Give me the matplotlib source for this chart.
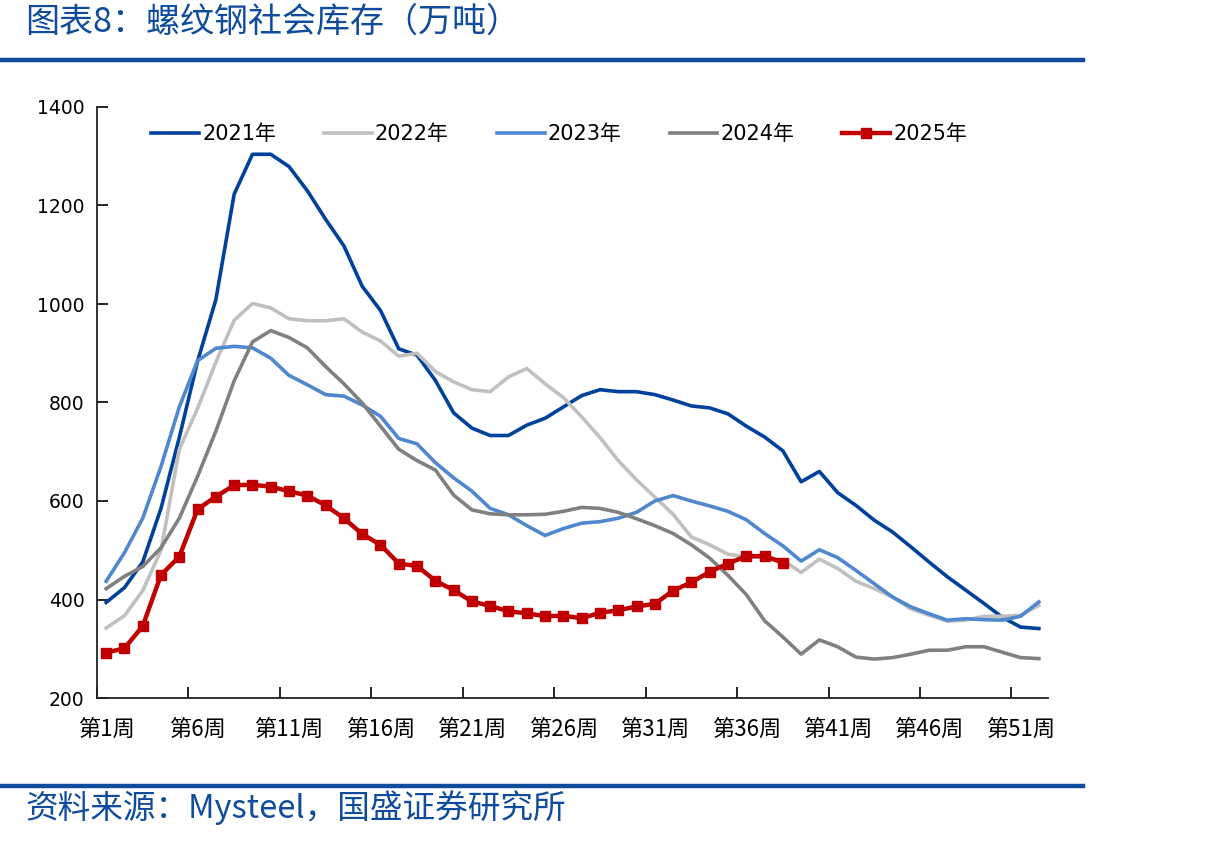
import matplotlib
matplotlib.use('Agg')
import matplotlib.pyplot as plt
from matplotlib.lines import Line2D

weeks = list(range(1, 53))
series_names = ['2021年', '2022年', '2023年', '2024年', '2025年']

y2021 = [394, 424, 476, 585, 729, 884, 1009, 1223, 1304, 1304,
         1279, 1230, 1172, 1118, 1036, 987, 909, 896, 845, 779,
         748, 733, 733, 754, 768, 791, 814, 826, 822, 822,
         816, 805, 793, 789, 777, 752, 730, 702, 639, 660,
         617, 591, 561, 537, 507, 476, 446, 419, 392, 364, 344, 341]
y2022 = [342, 367, 418, 500, 705, 788, 882, 967, 1001, 992,
         970, 966, 966, 970, 943, 925, 894, 900, 863, 842,
         826, 822, 852, 869, 838, 810, 771, 729, 682, 643,
         608, 573, 527, 511, 492, 486, 486, 480, 455, 482,
         463, 437, 422, 405, 381, 368, 356, 358, 366, 366, 368, 388]
y2023 = [437, 495, 565, 670, 791, 885, 910, 914, 911, 890,
         855, 836, 816, 813, 795, 772, 727, 716, 678, 647,
         620, 585, 572, 550, 530, 544, 555, 558, 565, 577,
         600, 611, 600, 590, 579, 562, 534, 509, 478, 501,
         485, 459, 432, 405, 385, 371, 358, 361, 359, 358, 366, 395]
y2024 = [422, 447, 467, 505, 565, 650, 742, 844, 923, 946,
         932, 911, 873, 838, 799, 752, 705, 682, 663, 612,
         582, 574, 572, 572, 573, 579, 587, 585, 577, 564,
         550, 534, 511, 484, 449, 410, 357, 324, 289, 318,
         304, 283, 279, 282, 289, 297, 297, 304, 304, 293, 282, 280]
y2025 = [292, 301, 346, 450, 487, 583, 609, 632, 633, 629,
         620, 611, 591, 565, 533, 511, 473, 468, 438, 419,
         396, 387, 376, 372, 366, 367, 362, 373, 378, 386,
         391, 418, 435, 456, 473, 488, 488, 475]

xtick_weeks = list(range(1, 53, 5))
xtick_labels = [f'第{w}周' for w in xtick_weeks]
yticks = list(range(200, 1401, 200))

title_text = '图表8：螺纹钢社会库存（万吨）'
source_text = '资料来源：Mysteel，国盛证券研究所'

colors = ['#00419C', '#C0C0C0', '#4F88CE', '#808080', '#C00000']
accent = '#0F4C9E'

plt.rcParams['font.family'] = ['DejaVu Sans', 'Noto Sans CJK SC']

W, H = 1205, 842
fig = plt.figure(figsize=(W / 100, H / 100), dpi=100)
ax = fig.add_axes([97 / W, 1 - 698 / H, (1048 - 97) / W, (698 - 107) / H])

for name, ys, c in zip(series_names, [y2021, y2022, y2023, y2024, y2025], colors):
    xs = weeks[:len(ys)]
    if name == '2025年':
        ax.plot(xs, ys, color=c, lw=3.2, marker='s', ms=7.5, label=name, zorder=5)
    else:
        ax.plot(xs, ys, color=c, lw=2.6, label=name)

ax.set_xlim(0.5, 52.5)
ax.set_ylim(200, 1400)
ax.set_yticks(yticks)
ax.set_yticklabels([str(v) for v in yticks], fontsize=13.5)
ax.set_xticks([w - 0.5 for w in xtick_weeks])
ax.set_xticklabels([])
ax.set_xticks(xtick_weeks, minor=True)
ax.set_xticklabels(xtick_labels, minor=True, fontsize=16, family=['Noto Sans CJK SC'])
ax.tick_params(axis='x', which='major', direction='in', length=8, width=1.2)
ax.tick_params(axis='x', which='minor', length=0, pad=14)
ax.tick_params(axis='y', direction='in', length=8, width=1.2, pad=9)

for s in ['top', 'right']:
    ax.spines[s].set_visible(False)
for s in ['left', 'bottom']:
    ax.spines[s].set_linewidth(1.3)
    ax.spines[s].set_color('#222222')

ax.legend(ncol=5, frameon=False, loc='center left',
          bbox_to_anchor=(151 / W, 1 - 134 / H), bbox_transform=fig.transFigure,
          handlelength=2.3, handletextpad=0.15, columnspacing=2.3,
          fontsize=15, borderpad=0, borderaxespad=0)

fig.add_artist(Line2D([0, 1083 / W], [1 - 60 / H, 1 - 60 / H], color=accent, lw=3.2))
fig.add_artist(Line2D([0, 1083 / W], [1 - 786 / H, 1 - 786 / H], color=accent, lw=3.2))

fig.text(25 / W, 1 - 22 / H, title_text, fontsize=24.5, color=accent,
         family=['Noto Sans CJK SC'], va='center', ha='left')
fig.text(25 / W, 1 - 808 / H, source_text, fontsize=23.5, color=accent,
         family=['Noto Sans CJK SC'], va='center', ha='left')

fig.savefig('out.png', dpi=100)
